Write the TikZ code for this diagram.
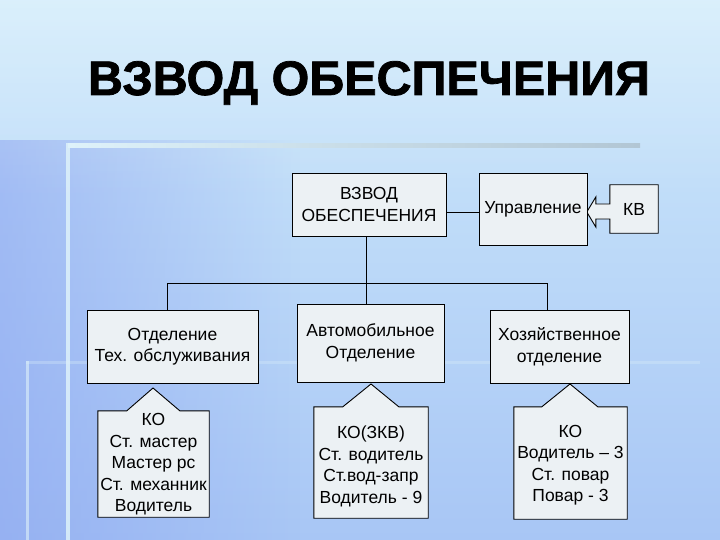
\documentclass[tikz,border=0pt]{standalone}
\usepackage{fontspec}
\setmainfont{Liberation Sans}
\newfontfamily\titlefont[BoldFeatures={FakeBold=1.5}]{Liberation Sans}
\usetikzlibrary{calc,fadings}
\pgfdeclarelayer{bgl}
\pgfdeclarelayer{shp}
\pgfsetlayers{bgl,shp,main}
\definecolor{boxfill}{RGB}{236,241,244}
\definecolor{bgtop}{RGB}{206,234,251}
\definecolor{bgbot}{RGB}{168,198,245}
\definecolor{bgleft}{RGB}{135,160,240}
\definecolor{linelight}{RGB}{222,242,250}
\definecolor{linedark}{RGB}{178,198,212}
\tikzset{
  boxline/.style={draw=black, line width=0.9pt, fill=boxfill},
  rbox/.style={boxline, inner sep=0pt, align=center, font=\fontsize{17.5}{21.5}\selectfont},
  cbox/.style={inner sep=0pt, align=center, font=\fontsize{17.5}{21.5}\selectfont},
  conn/.style={draw=black, line width=0.9pt},
}
\begin{document}
\begin{tikzpicture}[x=1pt,y=-1pt]
\useasboundingbox (0,0) rectangle (720,540);
\begin{pgfonlayer}{bgl}
  \shade[top color=bgtop, bottom color=bgbot] (0,0) rectangle (720,540);
  \fill[bgleft, path fading=east, fill opacity=0.55] (0,140) rectangle (300,540);
  \fill[white, path fading=south, fill opacity=0.25] (0,0) rectangle (720,200);
  \shade[left color=linelight, right color=linedark] (68,144) rectangle (640,148);
  \fill[linelight, opacity=0.85] (65.5,143) rectangle (69.5,540);
  \fill[linelight, opacity=0.6] (25.5,361) rectangle (28.5,540);
  \fill[linelight, opacity=0.3] (25.5,361) rectangle (700,364);
\end{pgfonlayer}

\node[anchor=base, font=\titlefont\bfseries\fontsize{48.5}{50}\selectfont] (title) at (369,95) {ВЗВОД ОБЕСПЕЧЕНИЯ};

% top row
\node[rbox, minimum width=154pt, minimum height=63pt] (top) at (369,204.5) {ВЗВОД\\ОБЕСПЕЧЕНИЯ};
\node[rbox, minimum width=108pt, minimum height=72pt] (upr) at (533,209) {Управление};
\node[cbox, minimum width=48pt, minimum height=48pt] (kv) at (634,209) {КВ};

% middle row
\node[rbox, minimum width=171pt, minimum height=73pt] (otd) at (172.5,346.5) {Отделение\\Тех. обслуживания};
\node[rbox, minimum width=147pt, minimum height=78pt] (avto) at (370.5,343) {Автомобильное\\Отделение};
\node[rbox, minimum width=139pt, minimum height=73pt] (hoz) at (559.5,346.5) {Хозяйственное\\отделение};

% bottom row (box outlines drawn on the shp layer)
\node[cbox, minimum width=111pt, minimum height=106pt] (ko1) at (153.5,464) {};
\node[cbox, minimum width=114pt, minimum height=111pt] (ko2) at (371,462.5) {};
\node[cbox, minimum width=113pt, minimum height=112pt] (ko3) at (570.5,463) {};
\node[cbox] (ko1t) at ($(ko1.center)+(0,0.5)$) {КО\\Ст. мастер\\Мастер рс\\Ст. механник\\Водитель};
\node[cbox] (ko2t) at ($(ko2.center)+(0,4)$) {КО(ЗКВ)\\Ст. водитель\\Ст.вод-запр\\Водитель - 9};
\node[cbox] (ko3t) at ($(ko3.center)+(0,2)$) {КО\\Водитель – 3\\Ст. повар\\Повар - 3};

\coordinate (p1) at (153,388);
\coordinate (p2) at (371,384);
\coordinate (p3) at (570,384);

\begin{pgfonlayer}{shp}
  \draw[boxline] ($(ko1.north west)+(29,0)$) -- (ko1.north west) -- (ko1.south west) -- (ko1.south east) -- (ko1.north east) -- ($(ko1.north west)+(82,0)$) -- (p1) -- cycle;
  \draw[boxline] ($(ko2.north west)+(29,0)$) -- (ko2.north west) -- (ko2.south west) -- (ko2.south east) -- (ko2.north east) -- ($(ko2.north west)+(85,0)$) -- (p2) -- cycle;
  \draw[boxline] ($(ko3.north west)+(28,0)$) -- (ko3.north west) -- (ko3.south west) -- (ko3.south east) -- (ko3.north east) -- ($(ko3.north west)+(84,0)$) -- (p3) -- cycle;
  \draw[boxline] (kv.north west) -- (kv.north east) -- (kv.south east) -- (kv.south west) -- ($(kv.west)+(0,10)$) -- ++(-14,0) -- ++(0,8) -- ($(kv.west)+(-23,3)$) -- ($(kv.west)+(-14,-12)$) -- ++(0,7) -- ($(kv.west)+(0,-5)$) -- cycle;
\end{pgfonlayer}

% connectors
\coordinate (busL) at (167,283);
\coordinate (busM) at (366,283);
\coordinate (busR) at (547,283);
\draw[conn] ([yshift=-7.5pt]top.east) -- ([yshift=-7.5pt]top.east -| upr.west);
\draw[conn] (busM |- top.south) -- (busM |- avto.north);
\draw[conn] (busL |- otd.north) -- (busL) -- (busR) -- (busR |- hoz.north);
\end{tikzpicture}
\end{document}
